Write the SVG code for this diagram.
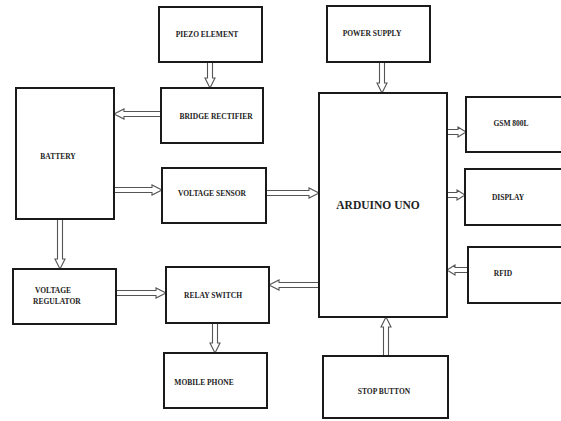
<svg xmlns="http://www.w3.org/2000/svg" width="561" height="421" viewBox="0 0 561 421">
<style>
.box{fill:#fff;stroke:#1a1a1a;stroke-width:2}
.arr{fill:#fff;stroke:#555;stroke-width:1.1;stroke-linejoin:miter}
.t{font-family:'Liberation Serif','DejaVu Serif','Times New Roman',serif;font-weight:bold;fill:#222;font-size:7.5px}
.big{font-size:11.5px}
</style>
<rect width="561" height="421" fill="#fff"/>
<g id="connectors">
<path class="arr" d="M207.5 62 V78 H205 L210 88 L215 78 H212.5 V62 Z"/>
<path class="arr" d="M161 111.5 H124 V109 L114 114 L124 119 V116.5 H161 Z"/>
<path class="arr" d="M114 187.5 H152 V185 L162 190 L152 195 V192.5 H114 Z"/>
<path class="arr" d="M266 190.5 H309 V188 L319 193 L309 198 V195.5 H266 Z"/>
<path class="arr" d="M57.5 219 V259 H55 L60 269 L65 259 H62.5 V219 Z"/>
<path class="arr" d="M116 290.5 H156 V288 L166 293 L156 298 V295.5 H116 Z"/>
<path class="arr" d="M319 282.5 H279 V280 L269 285 L279 290 V287.5 H319 Z"/>
<path class="arr" d="M212.5 323 V343 H210 L215 353 L220 343 H217.5 V323 Z"/>
<path class="arr" d="M379.5 62 V83 H377 L382 93 L387 83 H384.5 V62 Z"/>
<path class="arr" d="M447 129.5 H458 V127 L466 132 L458 137 V134.5 H447 Z"/>
<path class="arr" d="M447 192.5 H457 V190 L465 195 L457 200 V197.5 H447 Z"/>
<path class="arr" d="M468 267.5 H455 V265 L447 270 L455 275 V272.5 H468 Z"/>
<path class="arr" d="M383.5 356 V327 H381 L386 317 L391 327 H388.5 V356 Z"/>
</g>
<g id="piezo"><rect class="box" x="159" y="7" width="103" height="55"/><text class="t" font-family="Liberation Serif, serif" x="207" y="37" text-anchor="middle">PIEZO ELEMENT</text></g>
<g id="bridge"><rect class="box" x="161" y="88" width="102" height="55"/><text class="t" font-family="Liberation Serif, serif" x="216" y="119" text-anchor="middle">BRIDGE  RECTIFIER</text></g>
<g id="battery"><rect class="box" x="16" y="88" width="98" height="131"/><text class="t" font-family="Liberation Serif, serif" x="58" y="159" text-anchor="middle">BATTERY</text></g>
<g id="vsensor"><rect class="box" x="162" y="168" width="104" height="55"/><text class="t" font-family="Liberation Serif, serif" x="212" y="196" text-anchor="middle">VOLTAGE SENSOR</text></g>
<g id="vreg"><rect class="box" x="13" y="269" width="103" height="55"/><text class="t" font-family="Liberation Serif, serif" x="35" y="293">VOLTAGE</text><text class="t" font-family="Liberation Serif, serif" x="33" y="304">REGULATOR</text></g>
<g id="relay"><rect class="box" x="166" y="267" width="103" height="56"/><text class="t" font-family="Liberation Serif, serif" x="213" y="298" text-anchor="middle">RELAY SWITCH</text></g>
<g id="mobile"><rect class="box" x="164" y="353" width="103" height="55"/><text class="t" font-family="Liberation Serif, serif" x="204" y="385" text-anchor="middle">MOBILE PHONE</text></g>
<g id="power"><rect class="box" x="327" y="6" width="103" height="56"/><text class="t" font-family="Liberation Serif, serif" x="372" y="36" text-anchor="middle">POWER SUPPLY</text></g>
<g id="arduino"><rect class="box" x="319" y="93" width="128" height="224"/><text class="t big" font-family="Liberation Serif, serif" x="378" y="209" text-anchor="middle">ARDUINO UNO</text></g>
<g id="gsm"><rect class="box" x="466" y="97" width="100" height="55"/><text class="t" font-family="Liberation Serif, serif" x="511" y="126" text-anchor="middle">GSM 800L</text></g>
<g id="display"><rect class="box" x="465" y="169" width="100" height="56"/><text class="t" font-family="Liberation Serif, serif" x="508" y="200" text-anchor="middle">DISPLAY</text></g>
<g id="rfid"><rect class="box" x="468" y="247" width="100" height="56"/><text class="t" font-family="Liberation Serif, serif" x="503" y="276" text-anchor="middle">RFID</text></g>
<g id="stop"><rect class="box" x="323" y="356" width="125" height="62"/><text class="t" font-family="Liberation Serif, serif" x="384" y="394" text-anchor="middle">STOP BUTTON</text></g>
</svg>
